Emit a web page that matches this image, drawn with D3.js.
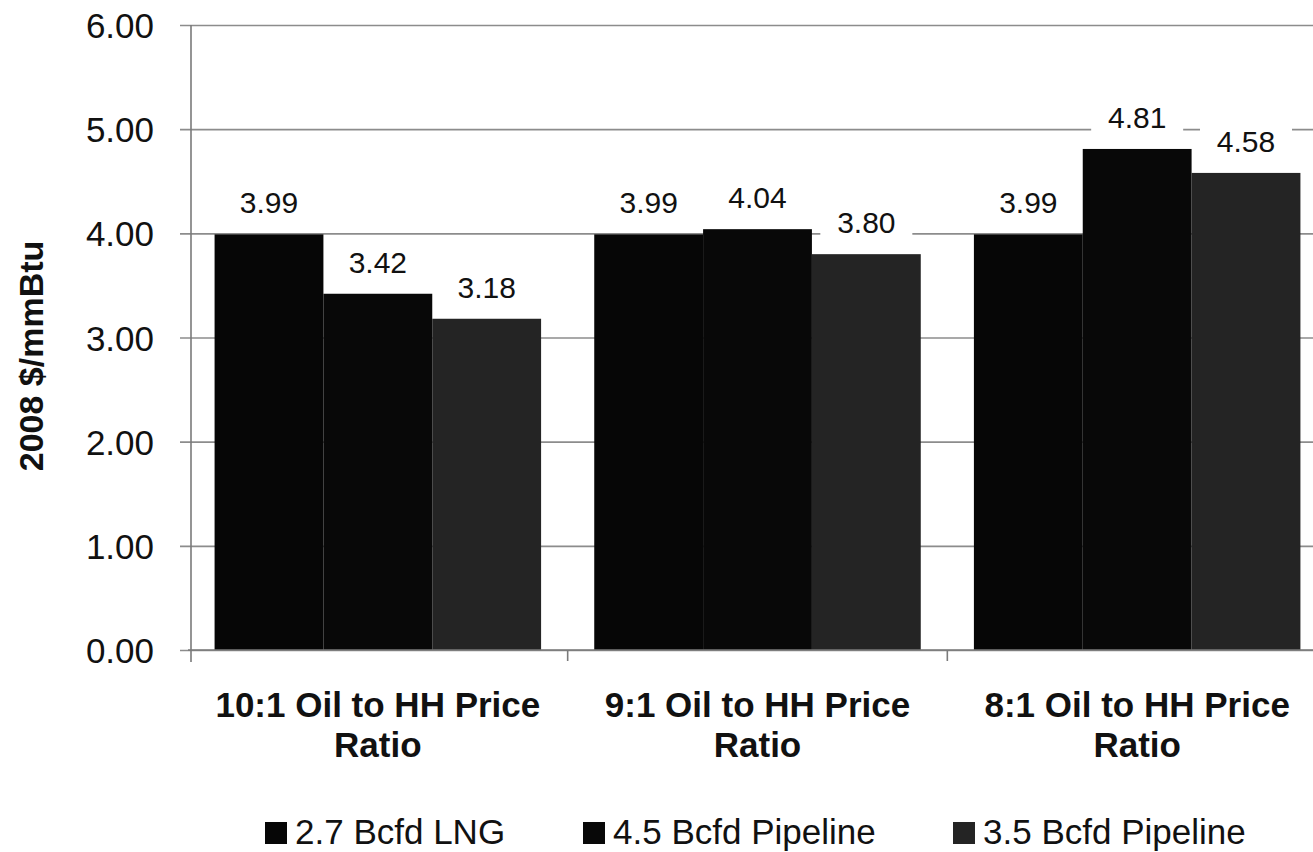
<!DOCTYPE html>
<html>
<head>
<meta charset="utf-8">
<script src="https://cdn.jsdelivr.net/npm/d3@7"></script>
<style>
  html, body { margin: 0; padding: 0; background: #ffffff; }
  svg { display: block; font-family: "Liberation Sans", Arial, sans-serif; }
</style>
</head>
<body>
<svg id="chart" width="1313" height="852"></svg>
<script>
// Gas price scenarios, 2008 $/mmBtu
const categories = ["10:1 Oil to HH Price Ratio", "9:1 Oil to HH Price Ratio", "8:1 Oil to HH Price Ratio"];
const seriesNames = ["2.7 Bcfd LNG", "4.5 Bcfd Pipeline", "3.5 Bcfd Pipeline"];
const lngValues = [3.99, 3.99, 3.99];
const pipeline45Values = [3.42, 4.04, 4.81];
const pipeline35Values = [3.18, 3.80, 4.58];
const yTicks = [0, 1, 2, 3, 4, 5, 6];
const yTitle = "2008 $/mmBtu";

const seriesValues = [lngValues, pipeline45Values, pipeline35Values];
const colors = ["#060606", "#080808", "#242424"];

const svg = d3.select("#chart");

// Layout
const axisX = 191, plotLeft = 188, plotRight = 1327, plotTop = 25, plotBottom = 650;

const y = d3.scaleLinear().domain([0, 6]).range([plotBottom, plotTop]);
const x0 = d3.scaleBand().domain(categories).range([plotLeft, plotRight]).padding(0);
const groupPad = x0.bandwidth() * 0.07;
const x1 = d3.scaleBand().domain(seriesNames).range([groupPad, x0.bandwidth() - groupPad]).padding(0);

// Gridlines + y tick labels
const gridX = 180;
const yAxis = d3.axisLeft(y)
  .tickValues(yTicks)
  .tickFormat(d3.format(".2f"))
  .tickSizeInner(-(plotRight - gridX))
  .tickSizeOuter(0)
  .tickPadding(26);

const gy = svg.append("g").attr("transform", `translate(${gridX},0)`).call(yAxis);
gy.select(".domain").remove();
gy.selectAll(".tick line").attr("stroke", "#8c8c8c").attr("stroke-width", 1.6);
gy.selectAll(".tick text")
  .attr("fill", "#111")
  .style("font-size", "35px")
  .attr("dy", "0.36em");

// Bars
const groups = svg.append("g").selectAll("g")
  .data(categories)
  .join("g")
  .attr("transform", d => `translate(${x0(d)},0)`);

groups.selectAll("rect")
  .data((c, ci) => seriesNames.map((s, si) => ({ s, si, v: seriesValues[si][ci] })))
  .join("rect")
  .attr("x", d => x1(d.s))
  .attr("y", d => y(d.v))
  .attr("width", x1.bandwidth())
  .attr("height", d => y(0) - y(d.v))
  .attr("fill", d => colors[d.si]);

// Axes lines
svg.append("line")
  .attr("x1", axisX).attr("x2", axisX)
  .attr("y1", plotTop).attr("y2", plotBottom + 12)
  .attr("stroke", "#7a7a7a").attr("stroke-width", 1.6);

svg.append("line")
  .attr("x1", plotLeft).attr("x2", plotRight)
  .attr("y1", plotBottom).attr("y2", plotBottom)
  .attr("stroke", "#7a7a7a").attr("stroke-width", 1.6);

// Category boundary ticks
const boundaries = categories.slice(1).map(c => x0(c));
svg.append("g").selectAll("line")
  .data(boundaries)
  .join("line")
  .attr("x1", d => d).attr("x2", d => d)
  .attr("y1", plotBottom).attr("y2", plotBottom + 11)
  .attr("stroke", "#7a7a7a").attr("stroke-width", 1.6);

// Value labels on white boxes
const labels = svg.append("g").selectAll("g")
  .data(categories.flatMap((c, ci) => seriesNames.map((s, si) => ({ c, s, v: seriesValues[si][ci] }))))
  .join("g")
  .attr("transform", d => `translate(${x0(d.c) + x1(d.s) + x1.bandwidth() / 2},${y(d.v) - 21})`);

labels.append("rect")
  .attr("x", -46).attr("y", -28)
  .attr("width", 92).attr("height", 34)
  .attr("fill", "#ffffff");

labels.append("text")
  .attr("text-anchor", "middle")
  .attr("fill", "#111")
  .style("font-size", "30px")
  .text(d => d3.format(".2f")(d.v));

// Category labels (two lines)
const catText = svg.append("g").selectAll("text")
  .data(categories)
  .join("text")
  .attr("text-anchor", "middle")
  .attr("fill", "#111")
  .style("font-size", "35px")
  .style("font-weight", "bold")
  .attr("transform", d => `translate(${x0(d) + x0.bandwidth() / 2},717)`);

catText.each(function (d) {
  const words = d.split(" ");
  const lines = [words.slice(0, -1).join(" "), words[words.length - 1]];
  d3.select(this).selectAll("tspan")
    .data(lines)
    .join("tspan")
    .attr("x", 0)
    .attr("dy", (l, i) => i === 0 ? 0 : 40)
    .text(l => l);
});

// Y axis title
svg.append("text")
  .attr("transform", "translate(43,356) rotate(-90)")
  .attr("text-anchor", "middle")
  .attr("fill", "#111")
  .style("font-size", "34px")
  .style("font-weight", "bold")
  .text(yTitle);

// Legend
const legendX = [265, 583, 953];
const legend = svg.append("g").selectAll("g")
  .data(seriesNames)
  .join("g")
  .attr("transform", (d, i) => `translate(${legendX[i]},844)`);

legend.append("rect")
  .attr("x", 0).attr("y", -22)
  .attr("width", 22).attr("height", 22)
  .attr("fill", (d, i) => colors[i]);

legend.append("text")
  .attr("x", 30)
  .attr("fill", "#111")
  .style("font-size", "35px")
  .text(d => d);
</script>
</body>
</html>
